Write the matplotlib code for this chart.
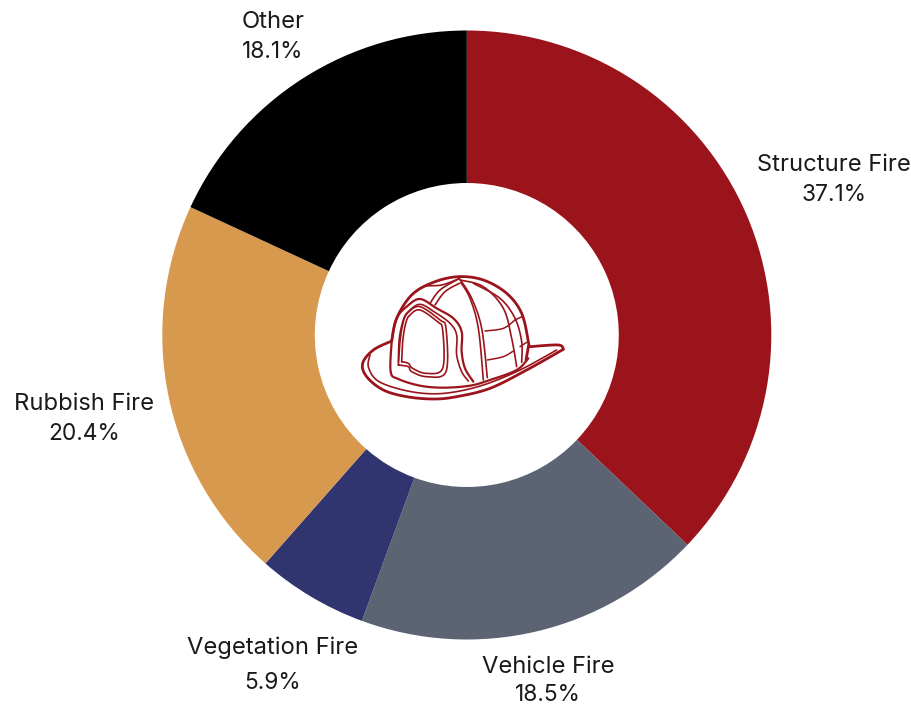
import matplotlib
matplotlib.use('Agg')
import numpy as np
import matplotlib.pyplot as plt

categories = ['Structure Fire', 'Vehicle Fire', 'Vegetation Fire', 'Rubbish Fire', 'Other']
shares = [37.1, 18.5, 5.9, 20.4, 18.1]
colors = ['#9b141c', '#5c6473', '#30346f', '#d6994d', '#000000']

W, H = 912, 706
CX, CY = 466.8, 335
R = 304.5
INNER = 152

# label centres in pixels, (name line y, value line y)
label_pos = [(834, 165, 195), (548, 667, 695), (273, 648, 683), (84, 404, 434), (273, 22, 52)]

RED = '#9b141c'

# helmet outline, traced strokes: (line width, points)
helmet_strokes = [
    (2.0, [(155, 258), (170, 190), (215, 120), (280, 82), (355, 65), (430, 75), (500, 115), (545, 175), (565, 260), (565, 275), (558, 315)]),
    (2.0, [(155, 258), (100, 285), (68, 325), (80, 365), (130, 405), (200, 425), (280, 432), (350, 425), (450, 400), (560, 345), (670, 283)]),
    (2.0, [(670, 283), (655, 270), (570, 275)]),
    (1.2, [(90, 300), (85, 335), (110, 375), (170, 400), (250, 415), (330, 413), (430, 390), (540, 345), (650, 285)]),
    (1.6, [(155, 258), (152, 350), (175, 372), (240, 392), (310, 398), (390, 392), (450, 375), (530, 345), (565, 310)]),
    (1.6, [(155, 258), (170, 190), (200, 155), (240, 132), (290, 160), (340, 190), (365, 230), (365, 290), (375, 340), (400, 380)]),
    (1.2, [(175, 320), (178, 250), (190, 195), (205, 170), (240, 148), (285, 172), (330, 205), (350, 240), (350, 300), (365, 350), (385, 378)]),
    (1.2, [(175, 330), (180, 260), (190, 200), (205, 172), (240, 155), (300, 195), (318, 220), (318, 350), (260, 365), (215, 350), (205, 335), (175, 330)]),
    (1.2, [(185, 320), (188, 260), (197, 205), (210, 180), (240, 165), (292, 200), (308, 225), (308, 340), (258, 355), (218, 340), (205, 325), (185, 320)]),
    (1.2, [(215, 120), (250, 95), (305, 90), (355, 72)]),
    (1.2, [(270, 145), (300, 105), (355, 72)]),
    (1.2, [(285, 150), (315, 110), (358, 85)]),
    (1.2, [(358, 70), (395, 130), (425, 220), (442, 368)]),
    (1.2, [(362, 82), (390, 130), (415, 220), (430, 375)]),
    (1.2, [(360, 75), (430, 95), (490, 160), (515, 250), (530, 335)]),
    (1.2, [(400, 85), (480, 130), (525, 190), (545, 260), (545, 322)]),
    (1.1, [(435, 228), (490, 220), (525, 195)]),
    (1.1, [(442, 315), (490, 305), (520, 288)]),
    (1.1, [(525, 195), (550, 183)]),
    (1.1, [(540, 275), (560, 262)]),
]


def smooth(pts, n=12):
    # catmull-rom through the traced points
    p = np.array(pts, dtype=float)
    p = np.vstack([p[0], p, p[-1]])
    out = []
    for i in range(1, len(p) - 2):
        for t in np.linspace(0, 1, n, endpoint=False):
            out.append(0.5 * (2 * p[i] + (p[i + 1] - p[i - 1]) * t
                              + (2 * p[i - 1] - 5 * p[i] + 4 * p[i + 1] - p[i + 2]) * t ** 2
                              + (3 * p[i] - p[i - 1] - 3 * p[i + 1] + p[i + 2]) * t ** 3))
    out.append(p[-2])
    return np.array(out)


plt.rcParams['font.family'] = 'Inter'
fig = plt.figure(figsize=(W / 100, H / 100), dpi=100)
ax = fig.add_axes([0, 0, 1, 1])

# y axis is flipped so counterclock=True runs clockwise on screen
ax.pie(shares, colors=colors, startangle=-90, counterclock=True, radius=R, center=(CX, CY),
       wedgeprops=dict(width=R - INNER, linewidth=0), frame=False)
ax.set_xlim(0, W)
ax.set_ylim(H, 0)
ax.set_aspect('auto')
ax.axis('off')

for name, share, (x, y1, y2) in zip(categories, shares, label_pos):
    ax.text(x, y1, name, ha='center', va='center', fontsize=17.1, color='#1a1a1a')
    ax.text(x, y2, '%.1f%%' % share, ha='center', va='center', fontsize=16.4, color='#1a1a1a')

# strokes were traced at 3x from a crop starting at (340, 255)
for lw, pts in helmet_strokes:
    xy = smooth(pts)
    ax.plot(340 + xy[:, 0] / 3, 255 + xy[:, 1] / 3, color=RED, lw=lw, solid_capstyle='round', zorder=5)

fig.savefig('out.png', dpi=100)
